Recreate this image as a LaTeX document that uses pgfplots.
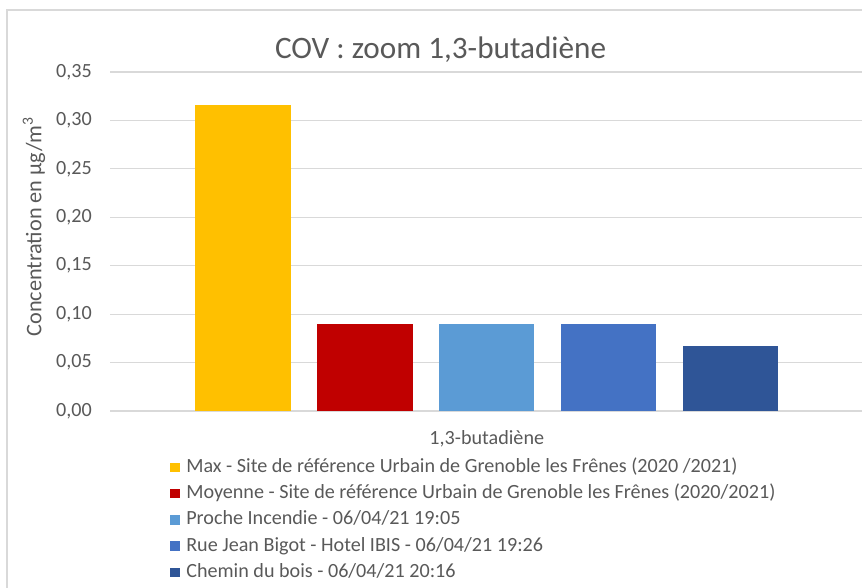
\documentclass[border=0pt]{standalone}
\usepackage{pgfplots}
\pgfplotsset{compat=1.18}
\usepackage{fontspec}
\setmainfont{Carlito}
\definecolor{cyellow}{HTML}{FFC000}
\definecolor{cred}{HTML}{C00000}
\definecolor{clight}{HTML}{5B9BD5}
\definecolor{cblue}{HTML}{4472C4}
\definecolor{cdark}{HTML}{2F5597}
\definecolor{gridgray}{HTML}{D9D9D9}
\definecolor{txt}{HTML}{595959}
\newcommand{\xlab}{1,3-butadiène}
\pgfplotsset{legsq/.style={legend image code/.code={\fill[##1] (0pt,-3.55pt) rectangle (7.1pt,3.55pt);}}}
\begin{document}
\begin{tikzpicture}
\useasboundingbox (0,0) rectangle (646.5pt,-440.25pt);
\begin{scope}
\clip (0,0) rectangle (646.5pt,-440.25pt);
\draw[gridgray, line width=1pt] (5.25pt,-7.5pt) rectangle (660pt,-450pt);
\end{scope}
\node[anchor=base, font=\fontsize{23.4}{28}\selectfont, text=txt] at (330.4pt,-43.5pt) {COV : zoom 1,3-butadiène};
\node[rotate=90, font=\fontsize{16.7}{20}\selectfont, text=txt] at (25.5pt,-170pt) {Concentration en µg/m\textsuperscript{3}};
\begin{axis}[
  at={(82.5pt,-308.25pt)}, anchor=south west,
  width=565.5pt, height=254.25pt, scale only axis,
  xmin=-1.091, xmax=5.095, ymin=0, ymax=0.35,
  ytick={0,0.05,0.1,0.15,0.2,0.25,0.3,0.35},
  xtick={2}, xticklabels={\xlab},
  axis line style={draw=none},
  tick style={draw=none},
  ymajorgrids,
  grid style={gridgray, line width=0.9pt},
  yticklabel style={inner sep=0pt, xshift=-13.5pt, font=\fontsize{15.1}{18}\selectfont, text=txt,
    /pgf/number format/.cd, fixed, fixed zerofill, precision=2, use comma, assume math mode=true},
  xticklabel style={anchor=base, inner sep=0pt, yshift=-24.75pt, font=\fontsize{15.1}{18}\selectfont, text=txt},
  legend style={at={(0.0796,-0.1386)}, anchor=north west, draw=none, fill=none,
    inner sep=0pt, column sep=4.9pt, row sep=6.2pt,
    font=\fontsize{15.1}{18}\selectfont, text=txt,
    nodes={inner sep=0pt, text height=10.5pt, text depth=3pt}},
  legend cell align=left,
  bar width=0.783,
]
\addplot[ybar, bar shift=0pt, fill=cyellow, draw=none, legsq] coordinates {(0,0.316)};
\addlegendentry{Max - Site de référence Urbain de Grenoble les Frênes (2020 /2021)}
\addplot[ybar, bar shift=0pt, fill=cred, draw=none, legsq] coordinates {(1,0.09)};
\addlegendentry{Moyenne - Site de référence Urbain de Grenoble les Frênes (2020/2021)}
\addplot[ybar, bar shift=0pt, fill=clight, draw=none, legsq] coordinates {(2,0.09)};
\addlegendentry{Proche Incendie - 06/04/21 19:05}
\addplot[ybar, bar shift=0pt, fill=cblue, draw=none, legsq] coordinates {(3,0.09)};
\addlegendentry{Rue Jean Bigot - Hotel IBIS - 06/04/21 19:26}
\addplot[ybar, bar shift=0pt, fill=cdark, draw=none, legsq] coordinates {(4,0.067)};
\addlegendentry{Chemin du bois - 06/04/21 20:16}
\end{axis}
\end{tikzpicture}
\end{document}
